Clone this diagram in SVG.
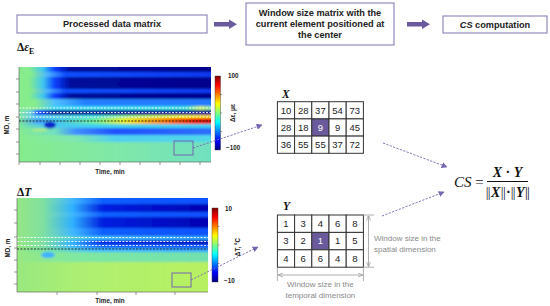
<svg xmlns="http://www.w3.org/2000/svg" width="550" height="306" viewBox="0 0 550 306">
<style>
.box{fill:#fff;stroke:#8070b0;stroke-width:1}
.bt{font-family:"Liberation Sans",Arial,sans-serif;font-weight:bold;font-size:9.2px;fill:#222;text-anchor:middle}
.ax{font-family:"Liberation Sans",Arial,sans-serif;font-weight:bold;font-size:6.3px;fill:#222}
.cell{fill:#fff;stroke:#333;stroke-width:1}
.num{font-family:"Liberation Sans",Arial,sans-serif;font-size:9.5px;fill:#222;text-anchor:middle}
.dim{font-family:"Liberation Sans",Arial,sans-serif;font-size:8px;fill:#8a8a8a}
.math{font-family:"Liberation Serif","Times New Roman",serif;fill:#111}
.nb{letter-spacing:-0.7px;font-weight:normal}
.tick{stroke:#555;stroke-width:0.6}
.wd{stroke:#fff;stroke-width:0.9;stroke-dasharray:2 1.4;fill:none}
.bd{stroke:#222;stroke-width:0.9;stroke-dasharray:2 1.4;fill:none}
.conn{stroke:#7565b0;stroke-width:0.9;stroke-dasharray:2.2 1.4;fill:none}
.garr{stroke:#999;stroke-width:0.8;fill:none}
</style>
<defs>
<marker id="ah" viewBox="0 0 10 10" refX="9" refY="5" markerWidth="6" markerHeight="6" orient="auto" markerUnits="userSpaceOnUse"><path d="M0,0 L10,5 L0,10 z" fill="#7565b0"/></marker>
<marker id="gh" viewBox="0 0 10 10" refX="9" refY="5" markerWidth="5" markerHeight="5" orient="auto-start-reverse" markerUnits="userSpaceOnUse"><path d="M0,1 L10,5 L0,9" fill="none" stroke="#999" stroke-width="1.5"/></marker>
<linearGradient id="jet" x1="0" y1="0" x2="0" y2="1"><stop offset="0" stop-color="#800000"/><stop offset="0.125" stop-color="#ff0000"/><stop offset="0.375" stop-color="#ffff00"/><stop offset="0.625" stop-color="#00ffff"/><stop offset="0.875" stop-color="#0000ff"/><stop offset="1" stop-color="#000080"/></linearGradient>
<linearGradient id="tDark"><stop offset="0" stop-color="#86ec8c"/><stop offset="0.07" stop-color="#86ec8c"/><stop offset="0.14" stop-color="#40c8f0"/><stop offset="0.2" stop-color="#0a40ff"/><stop offset="0.28" stop-color="#000a9a"/><stop offset="1" stop-color="#00008c"/></linearGradient>
<linearGradient id="tBlue"><stop offset="0" stop-color="#86ec8c"/><stop offset="0.08" stop-color="#86ec8c"/><stop offset="0.16" stop-color="#50b8ff"/><stop offset="0.25" stop-color="#1050ff"/><stop offset="1" stop-color="#0838f0"/></linearGradient>
<linearGradient id="tLBlue"><stop offset="0" stop-color="#86ec8c"/><stop offset="0.1" stop-color="#86ec8c"/><stop offset="0.2" stop-color="#50c0ff"/><stop offset="0.35" stop-color="#2080ff"/><stop offset="1" stop-color="#2078ff"/></linearGradient>
<linearGradient id="tCyan"><stop offset="0" stop-color="#86ec8c"/><stop offset="0.1" stop-color="#86ec8c"/><stop offset="0.2" stop-color="#40d8f8"/><stop offset="0.85" stop-color="#40e0e0"/><stop offset="0.93" stop-color="#c0f060"/><stop offset="1" stop-color="#60e0c0"/></linearGradient>
<linearGradient id="tMid"><stop offset="0" stop-color="#86ec8c"/><stop offset="0.08" stop-color="#70d0e0"/><stop offset="0.12" stop-color="#1040ff"/><stop offset="0.2" stop-color="#000090"/><stop offset="1" stop-color="#000090"/></linearGradient>
<linearGradient id="tYel"><stop offset="0" stop-color="#86ec8c"/><stop offset="0.1" stop-color="#60d0f0"/><stop offset="0.4" stop-color="#40e0e0"/><stop offset="0.6" stop-color="#a0f070"/><stop offset="0.85" stop-color="#f0f000"/><stop offset="1" stop-color="#ffd000"/></linearGradient>
<linearGradient id="tRed"><stop offset="0" stop-color="#86ec8c"/><stop offset="0.12" stop-color="#40a0ff"/><stop offset="0.2" stop-color="#40c0f0"/><stop offset="0.4" stop-color="#70f0a0"/><stop offset="0.55" stop-color="#f0f020"/><stop offset="0.75" stop-color="#ff8000"/><stop offset="0.9" stop-color="#f02000"/><stop offset="1" stop-color="#e01000"/></linearGradient>
<linearGradient id="tCyan2"><stop offset="0" stop-color="#86ec8c"/><stop offset="0.15" stop-color="#50c8f0"/><stop offset="0.4" stop-color="#40d0f0"/><stop offset="1" stop-color="#40d0f0"/></linearGradient>
<linearGradient id="tBlue2"><stop offset="0" stop-color="#86ec8c"/><stop offset="0.2" stop-color="#70e0c0"/><stop offset="0.3" stop-color="#4090ff"/><stop offset="0.5" stop-color="#2050ff"/><stop offset="1" stop-color="#3070ff"/></linearGradient>
<linearGradient id="tCyan3"><stop offset="0" stop-color="#86ec8c"/><stop offset="0.3" stop-color="#80e8b0"/><stop offset="0.5" stop-color="#50d0f0"/><stop offset="1" stop-color="#50d8e8"/></linearGradient>
<linearGradient id="tLow"><stop offset="0" stop-color="#86ec8c"/><stop offset="0.5" stop-color="#80e8a8"/><stop offset="1" stop-color="#70e0c0"/></linearGradient>
<linearGradient id="bDark"><stop offset="0" stop-color="#98e880"/><stop offset="0.15" stop-color="#80e0a0"/><stop offset="0.3" stop-color="#30b0ff"/><stop offset="0.45" stop-color="#0020e0"/><stop offset="1" stop-color="#0000b0"/></linearGradient>
<linearGradient id="bBlue"><stop offset="0" stop-color="#98e880"/><stop offset="0.15" stop-color="#80e0a0"/><stop offset="0.3" stop-color="#40b8ff"/><stop offset="0.45" stop-color="#1060ff"/><stop offset="1" stop-color="#1050ff"/></linearGradient>
<linearGradient id="bCyan"><stop offset="0" stop-color="#98e880"/><stop offset="0.2" stop-color="#70e0b0"/><stop offset="0.4" stop-color="#40c0ff"/><stop offset="1" stop-color="#30a0ff"/></linearGradient>
<linearGradient id="bGreen"><stop offset="0" stop-color="#98e880"/><stop offset="0.3" stop-color="#80e8a0"/><stop offset="1" stop-color="#70e0b0"/></linearGradient>
<linearGradient id="bLow"><stop offset="0" stop-color="#98e880"/><stop offset="0.4" stop-color="#b0f070"/><stop offset="1" stop-color="#b8f060"/></linearGradient>
<clipPath id="ct"><rect x="19" y="67" width="192" height="95"/></clipPath>
<clipPath id="cb"><rect x="17" y="198" width="191" height="94"/></clipPath>
<filter id="soft" x="-5%" y="-5%" width="110%" height="110%"><feGaussianBlur stdDeviation="0.8 0.9"/></filter>
</defs>

<g id="box-processed">
<rect class="box" x="17" y="15" width="190" height="18"/>
<text class="bt" x="112" y="27.3">Processed data matrix</text>
</g>
<g id="box-window">
<rect class="box" x="246" y="3" width="148" height="42"/>
<text class="bt" x="320" y="16">Window size matrix with the</text>
<text class="bt" x="320" y="27">current element positioned at</text>
<text class="bt" x="320" y="38">the center</text>
</g>
<g id="box-cs">
<rect class="box" x="443" y="16" width="104" height="17"/>
<text class="bt" x="495" y="27.6"><tspan font-style="italic">CS</tspan> computation</text>
</g>
<g id="flow-arrows" fill="#6b5b9e">
<polygon points="214,22 229,22 229,19.5 237,24.3 229,29 229,26.5 214,26.5"/>
<polygon points="407,22 422,22 422,19.5 430,24.3 422,29 422,26.5 407,26.5"/>
</g>

<g id="heatmap-strain">
<text class="math" x="17" y="51" font-size="11.5" font-weight="bold">Δ<tspan font-style="italic">ε</tspan><tspan font-size="8" dy="2.5">E</tspan></text>
<g clip-path="url(#ct)">
<g filter="url(#soft)">
<rect x="15" y="63" width="200" height="9" fill="url(#tDark)"/>
<rect x="15" y="72" width="200" height="5" fill="url(#tBlue)"/>
<rect x="15" y="77" width="200" height="12" fill="url(#tDark)"/>
<rect x="15" y="89" width="200" height="4" fill="url(#tBlue)"/>
<rect x="15" y="93" width="200" height="6" fill="url(#tDark)"/>
<rect x="15" y="99" width="200" height="7" fill="url(#tLBlue)"/>
<rect x="15" y="106" width="200" height="4" fill="url(#tCyan)"/>
<rect x="15" y="110" width="200" height="5" fill="url(#tMid)"/>
<rect x="15" y="115" width="200" height="3" fill="url(#tYel)"/>
<rect x="15" y="118" width="200" height="6" fill="url(#tRed)"/>
<rect x="15" y="124" width="200" height="4" fill="url(#tCyan2)"/>
<rect x="15" y="128" width="200" height="7" fill="url(#tBlue2)"/>
<rect x="15" y="135" width="200" height="7" fill="url(#tCyan3)"/>
<rect x="15" y="142" width="200" height="24" fill="url(#tLow)"/>
<ellipse cx="50" cy="125" rx="6" ry="3.5" fill="#1028c8"/>
<ellipse cx="40" cy="130" rx="8" ry="1.5" fill="#c8f070" opacity="0.7"/>
</g>
<line class="wd" x1="19" y1="108" x2="211" y2="108"/>
<line class="wd" x1="19" y1="112.5" x2="211" y2="112.5"/>
<line class="wd" x1="19" y1="117" x2="211" y2="117"/>
<line class="bd" x1="19" y1="121" x2="211" y2="121"/>
</g>
<g class="tick">
<line x1="19" y1="67" x2="19" y2="162"/>
<line x1="19" y1="162" x2="211" y2="162"/>
<line x1="16" y1="79" x2="19" y2="79"/><line x1="16" y1="92" x2="19" y2="92"/><line x1="16" y1="104" x2="19" y2="104"/><line x1="16" y1="117" x2="19" y2="117"/><line x1="16" y1="129" x2="19" y2="129"/><line x1="16" y1="142" x2="19" y2="142"/><line x1="16" y1="154" x2="19" y2="154"/>
<line x1="19" y1="162" x2="19" y2="165"/><line x1="40" y1="162" x2="40" y2="165"/><line x1="60" y1="162" x2="60" y2="165"/><line x1="80" y1="162" x2="80" y2="165"/><line x1="100" y1="162" x2="100" y2="165"/><line x1="120" y1="162" x2="120" y2="165"/><line x1="140" y1="162" x2="140" y2="165"/><line x1="160" y1="162" x2="160" y2="165"/><line x1="180" y1="162" x2="180" y2="165"/><line x1="200" y1="162" x2="200" y2="165"/>
</g>
<text class="ax" x="110" y="174" text-anchor="middle">Time, min</text>
<text class="ax" transform="translate(9,125) rotate(-90)" text-anchor="middle">MD, m</text>
<rect x="215" y="76" width="5.5" height="74" fill="url(#jet)" stroke="#333" stroke-width="0.4"/>
<g class="tick"><line x1="220.5" y1="94.5" x2="222" y2="94.5"/><line x1="220.5" y1="113" x2="222" y2="113"/><line x1="220.5" y1="131.5" x2="222" y2="131.5"/></g>
<text class="ax" x="228" y="77.5">100</text>
<text class="ax" x="226" y="149.5">−100</text>
<text class="ax" transform="translate(234.5,113) rotate(-90)" text-anchor="middle">Δε, με</text>
<rect x="174" y="141" width="19" height="14" fill="none" stroke="#7565b0" stroke-width="1"/>
</g>

<g id="heatmap-temperature">
<text class="math" x="17" y="196" font-size="11.5" font-weight="bold">Δ<tspan font-style="italic">T</tspan></text>
<g clip-path="url(#cb)">
<g filter="url(#soft)">
<rect x="13" y="194" width="199" height="10" fill="url(#bBlue)"/>
<rect x="13" y="204" width="199" height="8" fill="url(#bDark)"/>
<rect x="13" y="212" width="199" height="5" fill="url(#bBlue)"/>
<rect x="13" y="217" width="199" height="11" fill="url(#bDark)"/>
<rect x="13" y="228" width="199" height="8" fill="url(#bBlue)"/>
<rect x="13" y="236" width="199" height="4" fill="url(#bCyan)"/>
<rect x="13" y="240" width="199" height="4" fill="url(#bDark)"/>
<rect x="13" y="244" width="199" height="4" fill="url(#bBlue)"/>
<rect x="13" y="248" width="199" height="4" fill="url(#bCyan)"/>
<rect x="13" y="252" width="199" height="10" fill="url(#bGreen)"/>
<rect x="13" y="262" width="199" height="34" fill="url(#bLow)"/>
<ellipse cx="48" cy="255" rx="7" ry="3" fill="#40b0ff"/>
</g>
<line class="wd" x1="17" y1="237.5" x2="208" y2="237.5"/>
<line class="wd" x1="17" y1="241.5" x2="208" y2="241.5"/>
<line class="wd" x1="17" y1="245.5" x2="208" y2="245.5"/>
<line class="bd" x1="17" y1="249" x2="208" y2="249"/>
</g>
<g class="tick">
<line x1="17" y1="198" x2="17" y2="292"/>
<line x1="17" y1="292" x2="208" y2="292"/>
<line x1="14" y1="210" x2="17" y2="210"/><line x1="14" y1="223" x2="17" y2="223"/><line x1="14" y1="237" x2="17" y2="237"/><line x1="14" y1="248" x2="17" y2="248"/><line x1="14" y1="260" x2="17" y2="260"/><line x1="14" y1="272" x2="17" y2="272"/><line x1="14" y1="284" x2="17" y2="284"/>
<line x1="57" y1="292" x2="57" y2="295"/><line x1="97" y1="292" x2="97" y2="295"/><line x1="136" y1="292" x2="136" y2="295"/><line x1="175" y1="292" x2="175" y2="295"/>
</g>
<text class="ax" x="110" y="303" text-anchor="middle">Time, min</text>
<text class="ax" transform="translate(10,248) rotate(-90)" text-anchor="middle">MD, m</text>
<rect x="212" y="208" width="6" height="74" fill="url(#jet)" stroke="#333" stroke-width="0.4"/>
<g class="tick"><line x1="218" y1="226.5" x2="219.5" y2="226.5"/><line x1="218" y1="245" x2="219.5" y2="245"/><line x1="218" y1="263.5" x2="219.5" y2="263.5"/></g>
<text class="ax" x="225" y="210.5">10</text>
<text class="ax" x="224" y="282.5">−10</text>
<text class="ax" transform="translate(240,247) rotate(-90)" text-anchor="middle">ΔT, °C</text>
<rect x="172" y="273" width="19" height="14" fill="none" stroke="#7565b0" stroke-width="1"/>
</g>

<g id="matrix-x">
<text class="math" x="282" y="97.5" font-size="11.5" font-weight="bold" font-style="italic">X</text>
<g class="cell">
<rect x="277.4" y="101.7" width="17.2" height="17.2"/><rect x="294.6" y="101.7" width="17.2" height="17.2"/><rect x="311.8" y="101.7" width="17.2" height="17.2"/><rect x="329" y="101.7" width="17.2" height="17.2"/><rect x="346.2" y="101.7" width="17.2" height="17.2"/>
<rect x="277.4" y="118.9" width="17.2" height="17.2"/><rect x="294.6" y="118.9" width="17.2" height="17.2"/><rect x="311.8" y="118.9" width="17.2" height="17.2" fill="#6a5a9c"/><rect x="329" y="118.9" width="17.2" height="17.2"/><rect x="346.2" y="118.9" width="17.2" height="17.2"/>
<rect x="277.4" y="136.1" width="17.2" height="17.2"/><rect x="294.6" y="136.1" width="17.2" height="17.2"/><rect x="311.8" y="136.1" width="17.2" height="17.2"/><rect x="329" y="136.1" width="17.2" height="17.2"/><rect x="346.2" y="136.1" width="17.2" height="17.2"/>
</g>
<g class="num">
<text x="286" y="113.7">10</text><text x="303.2" y="113.7">28</text><text x="320.4" y="113.7">37</text><text x="337.6" y="113.7">54</text><text x="354.8" y="113.7">73</text>
<text x="286" y="130.9">28</text><text x="303.2" y="130.9">18</text><text x="320.4" y="130.9" fill="#fff">9</text><text x="337.6" y="130.9">9</text><text x="354.8" y="130.9">45</text>
<text x="286" y="148.1">36</text><text x="303.2" y="148.1">55</text><text x="320.4" y="148.1">55</text><text x="337.6" y="148.1">37</text><text x="354.8" y="148.1">72</text>
</g>
</g>

<g id="matrix-y">
<text class="math" x="283" y="210" font-size="11.5" font-weight="bold" font-style="italic">Y</text>
<g class="cell">
<rect x="277.4" y="215" width="17.2" height="17.4"/><rect x="294.6" y="215" width="17.2" height="17.4"/><rect x="311.8" y="215" width="17.2" height="17.4"/><rect x="329" y="215" width="17.2" height="17.4"/><rect x="346.2" y="215" width="17.2" height="17.4"/>
<rect x="277.4" y="232.4" width="17.2" height="17.4"/><rect x="294.6" y="232.4" width="17.2" height="17.4"/><rect x="311.8" y="232.4" width="17.2" height="17.4" fill="#6a5a9c"/><rect x="329" y="232.4" width="17.2" height="17.4"/><rect x="346.2" y="232.4" width="17.2" height="17.4"/>
<rect x="277.4" y="249.8" width="17.2" height="17.4"/><rect x="294.6" y="249.8" width="17.2" height="17.4"/><rect x="311.8" y="249.8" width="17.2" height="17.4"/><rect x="329" y="249.8" width="17.2" height="17.4"/><rect x="346.2" y="249.8" width="17.2" height="17.4"/>
</g>
<g class="num">
<text x="286" y="227">1</text><text x="303.2" y="227">3</text><text x="320.4" y="227">4</text><text x="337.6" y="227">6</text><text x="354.8" y="227">8</text>
<text x="286" y="244.4">3</text><text x="303.2" y="244.4">2</text><text x="320.4" y="244.4" fill="#fff">1</text><text x="337.6" y="244.4">1</text><text x="354.8" y="244.4">5</text>
<text x="286" y="261.8">4</text><text x="303.2" y="261.8">6</text><text x="320.4" y="261.8">6</text><text x="337.6" y="261.8">4</text><text x="354.8" y="261.8">8</text>
</g>
<g id="dim-spatial">
<line class="garr" x1="363" y1="215" x2="374" y2="215"/>
<line class="garr" x1="363" y1="267.2" x2="374" y2="267.2"/>
<line class="garr" x1="368.5" y1="216" x2="368.5" y2="266.2" marker-start="url(#gh)" marker-end="url(#gh)"/>
<text class="dim" x="374" y="241">Window size in the</text>
<text class="dim" x="374" y="252">spatial dimension</text>
</g>
<g id="dim-temporal">
<line class="garr" x1="277.4" y1="268" x2="277.4" y2="281"/>
<line class="garr" x1="363.4" y1="268" x2="363.4" y2="281"/>
<line class="garr" x1="278.4" y1="275" x2="362.4" y2="275" marker-start="url(#gh)" marker-end="url(#gh)"/>
<text class="dim" x="320.4" y="287" text-anchor="middle">Window size in the</text>
<text class="dim" x="320.4" y="298" text-anchor="middle">temporal dimension</text>
</g>
</g>

<g id="formula-cs" class="math">
<text x="454" y="186.5" font-size="15"><tspan font-style="italic">CS</tspan> =</text>
<line x1="487" y1="181.5" x2="528" y2="181.5" stroke="#111" stroke-width="1"/>
<text x="507.5" y="177" font-size="14" text-anchor="middle" font-weight="bold"><tspan font-style="italic">X</tspan> · <tspan font-style="italic">Y</tspan></text>
<text x="507.5" y="197" font-size="14" text-anchor="middle" font-weight="bold"><tspan class="nb">||</tspan><tspan dx="1" font-style="italic">X</tspan><tspan class="nb" dx="0.5">||</tspan><tspan dx="1">·</tspan><tspan class="nb">||</tspan><tspan dx="1" font-style="italic">Y</tspan><tspan class="nb" dx="0.5">||</tspan></text>
</g>

<g id="connectors">
<line class="conn" x1="193" y1="148" x2="262" y2="125" marker-end="url(#ah)"/>
<line class="conn" x1="191" y1="280" x2="258" y2="247" marker-end="url(#ah)"/>
<line class="conn" x1="383" y1="143" x2="447" y2="167" marker-end="url(#ah)"/>
<line class="conn" x1="382" y1="216" x2="444" y2="192" marker-end="url(#ah)"/>
</g>
</svg>
